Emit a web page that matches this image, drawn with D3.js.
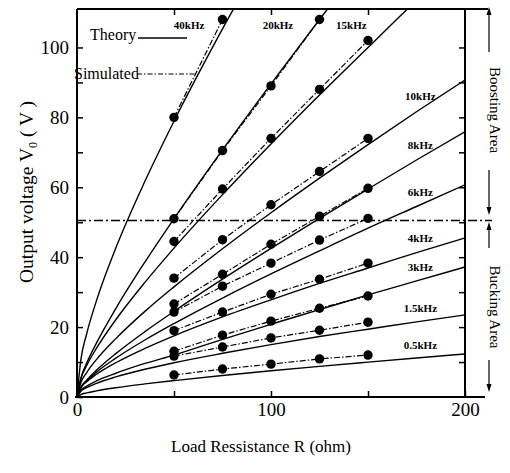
<!DOCTYPE html>
<html>
<head>
<meta charset="utf-8">
<script src="https://cdn.jsdelivr.net/npm/d3@7"></script>
<style>
  body { margin: 0; background: #fff; }
  text { font-family: "Liberation Serif", "Times New Roman", serif; fill: #000; }
</style>
</head>
<body>
<svg id="chart"></svg>
<script>
// load resistance grid for the theory curves (ohm)
const theoryR = [0, 2, 5, 10, 20, 35, 50, 75, 100, 125, 150, 175, 200]
// resistances of the simulated points (ohm)
const simR = [50, 75, 100, 125, 150]

const freqs = ['40kHz', '20kHz', '15kHz', '10kHz', '8kHz', '6kHz', '4kHz', '3kHz', '1.5kHz', '0.5kHz']

// theory output voltage (V), one array per frequency, on theoryR
const theory40k = [0, 10.7, 18.1, 27.5, 42.6, 61.7, 78.9, 105.3, 130, null, null, null, null]
const theory20k = [0, 5.4, 9.7, 15.4, 25.3, 38.6, 51, 70.7, 89.6, 108, 126, null, null]
const theory15k = [0, 5.2, 9.0, 13.9, 22.1, 32.8, 42.6, 57.9, 72.4, 86.4, 100, 113.5, 126.6]
const theory10k = [0, 4.1, 7.0, 10.7, 16.7, 24.5, 31.5, 42.4, 52.7, 62.6, 72.2, 81.6, 90.7]
const theory8k = [0, 2.75, 4.84, 7.63, 12.4, 18.7, 24.5, 33.7, 42.5, 51.1, 59.5, 67.8, 75.9]
const theory6k = [0, 2.7, 4.6, 7.1, 11.1, 16.3, 21, 28.3, 35.2, 41.8, 48.3, 54.5, 60.7]
const theory4k = [0, 2.66, 4.4, 6.5, 9.8, 13.9, 17.5, 22.9, 27.8, 32.5, 36.9, 41.3, 45.5]
const theory3k = [0, 1.9, 3.1, 4.6, 6.8, 9.6, 12, 16.5, 20.8, 25.0, 29.2, 33.2, 37.2]
const theory1_5k = [0, 1.65, 2.68, 3.9, 5.74, 7.94, 9.8, 12.5, 15.0, 17.3, 19.4, 21.5, 23.5]
const theory0_5k = [0, 0.71, 1.17, 1.74, 2.64, 3.74, 4.7, 6.16, 7.5, 8.77, 9.98, 11.16, 12.3]

// simulated output voltage (V), on simR
const sim40k = [80, 108, null, null, null]
const sim20k = [51, 70.5, 89, 108, null]
const sim15k = [44.5, 59.5, 74, 88, 102]
const sim10k = [34, 45, 55, 64.5, 74]
const sim8k = [26.6, 35.1, 43.7, 51.7, 59.7]
const sim6k = [24.3, 31.7, 38.3, 44.9, 51.1]
const sim4k = [19, 24.3, 29.4, 33.7, 38.3]
const sim3k = [13.1, 17.7, 21.7, 25.4, 28.9]
const sim1_5k = [11.7, 14.3, 16.9, 19.1, 21.4]
const sim0_5k = [6.3, 8.0, 9.4, 10.9, 12]

const inputVoltage = 50.5   // boost / buck boundary
const xTicks = [0, 50, 100, 150, 200]
const xTickLabels = [0, 100, 200]
const yTicks = [0, 10, 20, 30, 40, 50, 60, 70, 80, 90, 100]
const yTickLabels = [0, 20, 40, 60, 80, 100]

const theoryAll = [theory40k, theory20k, theory15k, theory10k, theory8k, theory6k, theory4k, theory3k, theory1_5k, theory0_5k]
const simAll = [sim40k, sim20k, sim15k, sim10k, sim8k, sim6k, sim4k, sim3k, sim1_5k, sim0_5k]

const width = 510
const height = 473
const m = {left: 77, right: 465, top: 9, bottom: 397}

const svg = d3.select('#chart')
  .attr('width', width)
  .attr('height', height)

const x = d3.scaleLinear().domain([0, 200]).range([m.left, m.right])
const y = d3.scaleLinear().domain([0, 111]).range([m.bottom, m.top])

svg.append('defs').append('clipPath')
  .attr('id', 'plot-clip')
  .append('rect')
  .attr('x', m.left).attr('y', m.top)
  .attr('width', m.right - m.left).attr('height', m.bottom - m.top)

const series = freqs.map((f, i) => ({
  name: f,
  theory: theoryR.map((r, j) => [r, theoryAll[i][j]]).filter(d => d[1] != null),
  sim: simR.map((r, j) => [r, simAll[i][j]]).filter(d => d[1] != null)
}))

const line = d3.line()
  .x(d => x(d[0]))
  .y(d => y(d[1]))

const plot = svg.append('g').attr('clip-path', 'url(#plot-clip)')

// theory: solid curves from the origin
plot.selectAll('path.theory')
  .data(series)
  .join('path')
  .attr('class', 'theory')
  .attr('d', d => line.curve(d3.curveMonotoneX)(d.theory))
  .attr('fill', 'none')
  .attr('stroke', '#000')
  .attr('stroke-width', 1.4)

// simulated: dash-dot lines through the points
plot.selectAll('path.sim')
  .data(series)
  .join('path')
  .attr('class', 'sim')
  .attr('d', d => line.curve(d3.curveLinear)(d.sim))
  .attr('fill', 'none')
  .attr('stroke', '#000')
  .attr('stroke-width', 1.2)
  .attr('stroke-dasharray', '6,2,1.5,2')

plot.selectAll('g.dots')
  .data(series)
  .join('g')
  .attr('class', 'dots')
  .selectAll('circle')
  .data(d => d.sim)
  .join('circle')
  .attr('cx', d => x(d[0]))
  .attr('cy', d => y(d[1]))
  .attr('r', 4.7)
  .attr('fill', '#000')

// boundary between boosting and bucking
svg.append('line')
  .attr('x1', m.left).attr('x2', m.right + 27)
  .attr('y1', y(inputVoltage)).attr('y2', y(inputVoltage))
  .attr('stroke', '#000')
  .attr('stroke-width', 1.3)
  .attr('stroke-dasharray', '9,3,2,3')

// frame
const frame = svg.append('g').attr('stroke', '#000').attr('stroke-width', 2)
frame.append('line').attr('x1', m.left).attr('x2', m.left).attr('y1', m.top).attr('y2', m.bottom)
frame.append('line').attr('x1', m.right).attr('x2', m.right).attr('y1', m.top).attr('y2', m.bottom)
frame.append('line').attr('x1', m.left).attr('x2', m.right + 23).attr('y1', m.top).attr('y2', m.top)
frame.append('line').attr('x1', m.left - 2).attr('x2', m.right + 20).attr('y1', m.bottom).attr('y2', m.bottom)

// axes, ticks inside
const xAxis = svg.append('g')
  .attr('transform', `translate(0,${m.bottom})`)
  .call(d3.axisBottom(x).tickValues(xTicks).tickSize(-6).tickSizeOuter(0).tickPadding(5)
    .tickFormat(d => xTickLabels.includes(d) ? d : ''))
svg.append('g')
  .attr('transform', `translate(0,${m.top})`)
  .call(d3.axisTop(x).tickValues(xTicks.slice(1, -1)).tickSize(-6).tickSizeOuter(0).tickFormat(''))
const yAxis = svg.append('g')
  .attr('transform', `translate(${m.left},0)`)
  .call(d3.axisLeft(y).tickValues(yTicks).tickSize(-6).tickSizeOuter(0).tickPadding(8)
    .tickFormat(d => yTickLabels.includes(d) ? d : ''))
svg.append('g')
  .attr('transform', `translate(${m.right},0)`)
  .call(d3.axisRight(y).tickValues(yTicks.slice(1)).tickSize(-6).tickSizeOuter(0).tickFormat(''))

svg.selectAll('.domain').remove()
svg.selectAll('.tick line').attr('stroke', '#000').attr('stroke-width', 1.5)
svg.selectAll('.tick text')
  .attr('font-family', '"Liberation Serif", serif')
  .attr('font-size', 19)
  .attr('fill', '#000')
xAxis.selectAll('.tick text').attr('dy', '0.72em')

// axis titles
svg.append('text')
  .attr('x', 261).attr('y', 452)
  .attr('text-anchor', 'middle')
  .attr('font-size', 17)
  .text('Load Ressistance  R (ohm)')

const yTitle = svg.append('text')
  .attr('transform', 'translate(33,192) rotate(-90)')
  .attr('text-anchor', 'middle')
  .attr('font-size', 19.5)
yTitle.append('tspan').text('Output voltage V')
yTitle.append('tspan').attr('font-size', 12).attr('dy', 4).text('0')
yTitle.append('tspan').attr('dy', -4).text(' ( V )')

// frequency labels
function valueAt(pts, r) {
  for (let i = 1; i < pts.length; i++) {
    if (pts[i][0] >= r) {
      const t = (r - pts[i - 1][0]) / (pts[i][0] - pts[i - 1][0])
      return pts[i - 1][1] + t * (pts[i][1] - pts[i - 1][1])
    }
  }
  return pts[pts.length - 1][1]
}
function rAt(pts, v) {
  for (let i = 1; i < pts.length; i++) {
    if (pts[i][1] >= v) {
      const t = (v - pts[i - 1][1]) / (pts[i][1] - pts[i - 1][1])
      return pts[i - 1][0] + t * (pts[i][0] - pts[i - 1][0])
    }
  }
  return pts[pts.length - 1][0]
}

svg.append('g')
  .selectAll('text')
  .data(series)
  .join('text')
  .attr('font-size', 11)
  .attr('font-weight', 'bold')
  .attr('text-anchor', 'middle')
  .attr('x', (d, i) => i < 3 ? x(rAt(d.theory, 104)) - 31 : x(177))
  .attr('y', (d, i) => i < 3 ? 29 : y(valueAt(d.theory, 177)) - 9)
  .text(d => d.name)

// legend
const legend = svg.append('g').attr('font-size', 16)
legend.append('text').attr('x', 90).attr('y', 40).text('Theory')
legend.append('line').attr('x1', 138).attr('x2', 187).attr('y1', 38).attr('y2', 38)
  .attr('stroke', '#000').attr('stroke-width', 1.3)
legend.append('text').attr('x', 74).attr('y', 79).text('Simulated')
legend.append('line').attr('x1', 137).attr('x2', 195).attr('y1', 74).attr('y2', 74)
  .attr('stroke', '#000').attr('stroke-width', 1.2).attr('stroke-dasharray', '5,2,1.5,2')

// boosting / bucking annotation on the right
const ann = svg.append('g')
const ax = 489
function arrow(y1, y2) {
  const dir = y2 > y1 ? 1 : -1
  ann.append('line').attr('x1', ax).attr('x2', ax).attr('y1', y1).attr('y2', y2 - dir * 6)
    .attr('stroke', '#000').attr('stroke-width', 1.2)
  ann.append('path')
    .attr('d', `M${ax - 2.5},${y2 - dir * 8}L${ax + 2.5},${y2 - dir * 8}L${ax},${y2}Z`)
    .attr('fill', '#000')
}
arrow(52, 7)
arrow(170, 215)
arrow(248, 222)
arrow(360, 392)

ann.append('text')
  .attr('transform', 'translate(490,110) rotate(90)')
  .attr('text-anchor', 'middle')
  .attr('font-size', 15)
  .text('Boosting Area')
ann.append('text')
  .attr('transform', 'translate(490,307) rotate(90)')
  .attr('text-anchor', 'middle')
  .attr('font-size', 15)
  .text('Bucking Area')
</script>
</body>
</html>
